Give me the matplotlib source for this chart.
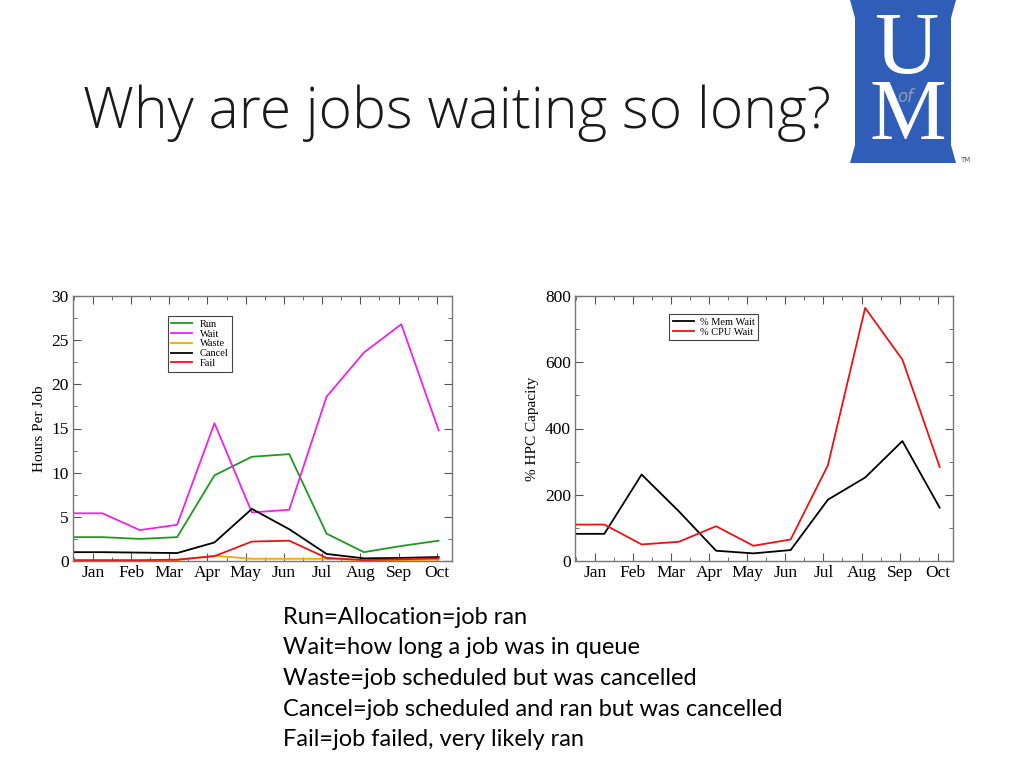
import numpy as np
import matplotlib
matplotlib.use("Agg")
import matplotlib.pyplot as plt
from matplotlib.patches import Polygon
from matplotlib.ticker import MultipleLocator

months = ["Jan", "Feb", "Mar", "Apr", "May", "Jun", "Jul", "Aug", "Sep", "Oct"]

# hours per job (left chart)
run = [2.7, 2.5, 2.7, 9.7, 11.8, 12.1, 3.1, 1.0, 1.7, 2.3]
wait = [5.4, 3.5, 4.1, 15.6, 5.5, 5.8, 18.6, 23.6, 26.8, 14.8]
waste = [0.0, 0.0, 0.1, 0.6, 0.25, 0.25, 0.25, 0.1, 0.1, 0.15]
cancel = [1.0, 0.95, 0.9, 2.1, 5.9, 3.6, 0.8, 0.3, 0.35, 0.45]
fail = [0.1, 0.1, 0.15, 0.55, 2.2, 2.3, 0.35, 0.1, 0.2, 0.3]

# % HPC capacity (right chart)
mem_wait = [82, 261, 150, 31, 23, 33, 185, 252, 362, 161]
cpu_wait = [110, 50, 58, 105, 46, 65, 289, 764, 608, 284]

body = ["Run=Allocation=job ran",
        "Wait=how long a job was in queue",
        "Waste=job scheduled but was cancelled",
        "Cancel=job scheduled and ran but was cancelled",
        "Fail=job failed, very likely ran"]

serif = "Liberation Serif"
xlo, xhi = -0.52, 9.4
xs = np.linspace(0.25, 9.05, len(months))
xs_full = np.concatenate([[xlo], xs])


def lead(v):
    # each series starts flat from the left edge
    return [v[0]] + list(v)


def style_axes(ax, ymax, ymaj, ylabel):
    ax.set_xlim(xlo, xhi)
    ax.set_ylim(0, ymax)
    ax.set_xticks(range(len(months)))
    ax.set_xticklabels(months)
    ax.xaxis.set_minor_locator(MultipleLocator(0.5))
    ax.yaxis.set_major_locator(MultipleLocator(ymaj))
    ax.yaxis.set_minor_locator(MultipleLocator(ymaj / 2))
    ax.tick_params(which="both", direction="in", top=True, right=True,
                   labelsize=12.5, pad=3, color="#555555")
    ax.tick_params(which="major", length=6)
    ax.tick_params(which="minor", length=3)
    for lab in ax.get_xticklabels() + ax.get_yticklabels():
        lab.set_fontfamily(serif)
    for s in ax.spines.values():
        s.set_color("#777777")
        s.set_linewidth(1.0)
    ax.set_ylabel(ylabel, fontfamily=serif, fontsize=11, labelpad=4)


def px(x, y):
    return x / 1024, 1 - y / 768


fig = plt.figure(figsize=(10.24, 7.68), dpi=100)

fig.text(*px(83, 113), "Why are jobs waiting so long?", fontfamily="Open Sans",
         fontweight="light", fontsize=41, va="center", ha="left", color="#1a1a1a")

# logo
outline = [(850, 0), (956, 0), (951, 18), (951, 145), (956, 163), (850, 163),
           (855, 145), (855, 18)]
fig.patches.append(Polygon([px(x, y) for x, y in outline], closed=True,
                           facecolor="#2f5db8", edgecolor="none",
                           transform=fig.transFigure))
fig.text(*px(906, 52), "U", color="white", fontsize=64,
         fontfamily=serif, ha="center", va="center")
fig.text(*px(908, 118), "M", color="white", fontsize=62,
         fontfamily=serif, ha="center", va="center")
fig.text(*px(905, 97), "of", color="#8f9cb4", fontsize=12,
         fontfamily="DejaVu Sans", style="italic", ha="center", va="center")
fig.text(*px(965, 160), "TM", color="#555555", fontsize=5,
         ha="center", va="center")

# left chart
ax1 = fig.add_axes([73 / 1024, 1 - 561 / 768, 379 / 1024, 265 / 768])
lw = 1.3
ax1.plot(xs_full, lead(run), color="#1e9a1e", lw=lw, label="Run")
ax1.plot(xs_full, lead(wait), color="#ee22ee", lw=lw, label="Wait")
ax1.plot(xs_full, lead(waste), color="#f5a800", lw=lw, label="Waste")
ax1.plot(xs_full, lead(cancel), color="black", lw=lw, label="Cancel")
ax1.plot(xs_full, lead(fail), color="#ee1111", lw=lw, label="Fail")
style_axes(ax1, 30, 5, "Hours Per Job")
leg1 = ax1.legend(loc="upper left", bbox_to_anchor=(0.25, 0.925), fancybox=False,
                  framealpha=1, edgecolor="#444444", handlelength=2.0,
                  labelspacing=0.05, borderpad=0.35, handletextpad=0.7,
                  borderaxespad=0, prop={"family": serif, "size": 7.5})
leg1.get_frame().set_linewidth(0.8)

# right chart
ax2 = fig.add_axes([575 / 1024, 1 - 561 / 768, 378 / 1024, 265 / 768])
ax2.plot(xs_full, lead(mem_wait), color="black", lw=lw, label="% Mem Wait")
ax2.plot(xs_full, lead(cpu_wait), color="#ee1111", lw=lw, label="% CPU Wait")
style_axes(ax2, 800, 200, "% HPC Capacity")
leg2 = ax2.legend(loc="upper left", bbox_to_anchor=(0.249, 0.932), fancybox=False,
                  framealpha=1, edgecolor="#444444", handlelength=2.0,
                  labelspacing=0.05, borderpad=0.35, handletextpad=0.6,
                  borderaxespad=0, prop={"family": serif, "size": 7.5})
leg2.get_frame().set_linewidth(0.8)

# notes under the charts
for i, line in enumerate(body):
    fig.text(*px(283, 617 + 30.7 * i), line, fontfamily="Lato",
             fontsize=17, ha="left", va="center", color="black")

fig.savefig("out.png", dpi=100)
